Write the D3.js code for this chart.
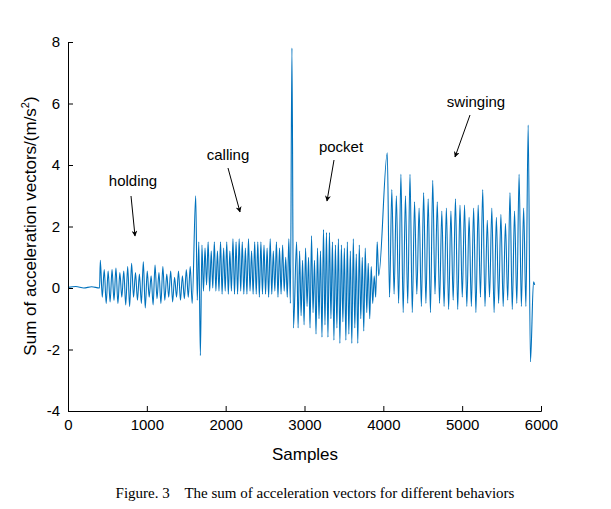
<!DOCTYPE html><html><head><meta charset="utf-8"><script src="https://cdn.jsdelivr.net/npm/d3@7"></script>
<style>body{margin:0;background:#fff}</style></head><body><svg id="c" width="611" height="509"></svg><script>
const xTicks=[0,1000,2000,3000,4000,5000,6000];
const yTicks=[-4,-2,0,2,4,6,8];
const holdPeaks=[0.9,0.6,0.55,0.6,0.65,0.5,0.55,0.7,0.8,0.5,0.45,0.85,0.55,0.4,0.75,0.5,0.7,0.45,0.55,0.35,0.55,0.4,0.6,0.7];
const holdTroughs=[-0.3,-0.5,-0.45,-0.4,-0.5,-0.3,-0.55,-0.6,-0.3,-0.4,-0.5,-0.65,-0.3,-0.55,-0.35,-0.5,-0.4,-0.3,-0.45,-0.3,-0.4,-0.35,-0.3,-0.5];
const callPeaks=[3.0,1.5,1.4,1.3,1.5,1.2,1.5,1.2,1.5,1.3,1.5,1.2,1.6,1.5,1.6,1.5,1.3,1.6,1.2,1.5,1.5,1.5,1.4,1.3,1.6,1.2,1.5,1.3,1.4,1.0,1.6,7.8];
const callTroughs=[-0.4,-2.2,-0.1,0.1,-0.1,0.0,-0.1,-0.1,-0.2,-0.1,-0.2,-0.1,-0.2,-0.2,-0.1,-0.2,-0.2,-0.1,-0.2,-0.2,-0.3,-0.2,-0.2,-0.3,-0.2,-0.1,-0.3,-0.2,-0.1,-0.3,-0.5,-1.3];
const pockPeaks=[1.5,1.2,0.9,1.3,1.0,1.7,0.9,1.3,1.2,1.9,1.8,1.8,1.5,1.4,1.6,1.4,1.3,1.5,1.2,1.6,1.1,1.4,1.0,1.3,0.8,0.7,0.4,1.5];
const pockTroughs=[-1.3,-0.9,-1.2,-0.6,-1.3,-0.8,-1.5,-1.0,-1.6,-1.2,-1.6,-1.0,-1.7,-1.3,-1.8,-1.1,-1.7,-1.5,-1.8,-1.3,-1.8,-1.0,-1.4,-0.8,-1.0,-0.5,-0.3,0.4];
const swingPeaks=[4.4,3.2,3.0,3.7,3.0,3.7,2.8,2.6,3.1,2.9,3.5,2.8,2.5,2.6,2.5,2.9,2.7,2.7,2.3,2.6,2.7,3.2,2.2,2.6,2.3,2.4,2.1,3.1,2.5,3.7,2.6,5.3];
const swingTroughs=[-0.3,-0.2,-0.5,-0.8,-0.5,-0.8,-0.2,-0.6,-0.5,-0.8,-0.2,-0.5,-0.6,-0.7,-0.4,-0.7,-0.3,-0.6,-0.6,-0.8,-0.3,-0.6,-0.3,-0.8,-0.5,-0.6,-0.4,-0.7,-0.5,-0.6,-0.6,-2.4];
const quiet=[[0,0.02],[100,0.05],[200,0.0],[300,0.04],[400,0.0]];
const segments=[[410,1600,holdPeaks,holdTroughs],[1620,2880,callPeaks,callTroughs],[2900,3960,pockPeaks,pockTroughs],[4050,5895,swingPeaks,swingTroughs]];
const pts=quiet.slice();
segments.forEach(([a,b,P,T])=>{const n=P.length;const step=(b-a)/n;
  P.forEach((p,i)=>{pts.push([a+i*step,p]);pts.push([a+(i+0.5)*step,T[i]]);});});
pts.push([5905,0.2],[5920,0.1]);

const svg=d3.select("#c");
const x=d3.scaleLinear().domain([0,6000]).range([68,541]);
const y=d3.scaleLinear().domain([-4,8]).range([411,42]);
svg.append("path").datum(pts).attr("fill","none").attr("stroke","#0072BD").attr("stroke-width",1.1)
 .attr("d",d3.line().curve(d3.curveMonotoneX).x(d=>x(d[0])).y(d=>y(d[1])));
const font="Arial, 'Liberation Sans', sans-serif";
const gx=svg.append("g").attr("transform","translate(0,411)").call(d3.axisBottom(x).tickValues(xTicks).tickFormat(d3.format("d")).tickSize(-5).tickPadding(8));
const gy=svg.append("g").attr("transform","translate(68,0)").call(d3.axisLeft(y).tickValues(yTicks).tickFormat(d=>String(d)).tickSize(-5).tickPadding(8));
[gx,gy].forEach(g=>{g.selectAll("text").attr("font-family",font).attr("font-size",15).attr("fill","#000");g.selectAll("line,path").attr("stroke","#000");});
svg.append("text").attr("x",305).attr("y",460).attr("text-anchor","middle").attr("font-family",font).attr("font-size",17).text("Samples");
const yl=svg.append("text").attr("transform","translate(36,226) rotate(-90)").attr("text-anchor","middle").attr("font-family",font).attr("font-size",17);
yl.append("tspan").text("Sum of acceleration vectors/(m/s");yl.append("tspan").attr("font-size",11).attr("dy",-7).text("2");yl.append("tspan").attr("dy",7).text(")");
svg.append("text").attr("x",315).attr("y",498).attr("text-anchor","middle").attr("font-family","'Liberation Serif','Times New Roman',serif").attr("font-size",15).attr("xml:space","preserve").text("Figure. 3    The sum of acceleration vectors for different behaviors");
svg.append("defs").append("marker").attr("id","ah").attr("viewBox","0 0 10 10").attr("refX",9).attr("refY",5).attr("markerWidth",6).attr("markerHeight",6).attr("orient","auto")
 .append("path").attr("d","M0,0L10,5L0,10L3,5Z").attr("fill","#000");
const ann=[["holding",133,186,131,196,135,236],["calling",228,160,228,168,240,212],["pocket",341,152,334,160,327,201],["swinging",476,107,470,115,455,157]];
ann.forEach(([t,tx,ty,x1,y1,x2,y2])=>{svg.append("text").attr("x",tx).attr("y",ty).attr("text-anchor","middle").attr("font-family",font).attr("font-size",15).text(t);
 svg.append("line").attr("x1",x1).attr("y1",y1).attr("x2",x2).attr("y2",y2).attr("stroke","#000").attr("stroke-width",1).attr("marker-end","url(#ah)");});
</script></body></html>
